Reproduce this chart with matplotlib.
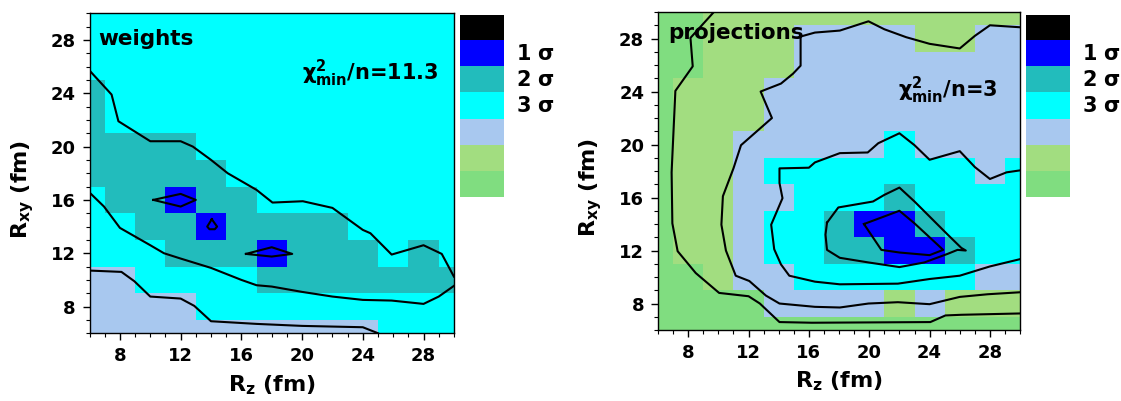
import numpy as np
import matplotlib
matplotlib.use("Agg")
import matplotlib.pyplot as plt
from matplotlib.colors import ListedColormap, BoundaryNorm
from matplotlib.ticker import MultipleLocator

# grid of cell centres (fm)
rz = np.arange(6, 31, 2)
rxy = np.arange(6, 31, 2)

# confidence class per cell: 0 = 1 sigma, 1 = 2 sigma, 2 = 3 sigma, 3..5 further out
# rows go from Rxy = 6 (first) to Rxy = 30 (last), columns Rz = 6 .. 30
weights_levels = [
    [3, 3, 3, 3, 3, 3, 3, 3, 3, 3, 2, 2, 2],
    [3, 3, 3, 3, 2, 2, 2, 2, 2, 2, 2, 2, 2],
    [3, 3, 2, 2, 2, 2, 1, 1, 1, 1, 1, 1, 1],
    [2, 2, 2, 1, 1, 1, 0, 1, 1, 1, 2, 1, 2],
    [2, 2, 1, 1, 0, 1, 1, 1, 1, 2, 2, 2, 2],
    [2, 1, 1, 0, 1, 1, 2, 2, 2, 2, 2, 2, 2],
    [1, 1, 1, 1, 1, 2, 2, 2, 2, 2, 2, 2, 2],
    [1, 1, 1, 1, 2, 2, 2, 2, 2, 2, 2, 2, 2],
    [1, 2, 2, 2, 2, 2, 2, 2, 2, 2, 2, 2, 2],
    [1, 2, 2, 2, 2, 2, 2, 2, 2, 2, 2, 2, 2],
    [2, 2, 2, 2, 2, 2, 2, 2, 2, 2, 2, 2, 2],
    [2, 2, 2, 2, 2, 2, 2, 2, 2, 2, 2, 2, 2],
    [2, 2, 2, 2, 2, 2, 2, 2, 2, 2, 2, 2, 2],
]

projections_levels = [
    [5, 5, 5, 5, 5, 5, 5, 5, 5, 5, 5, 5, 5],
    [5, 5, 5, 5, 3, 3, 3, 3, 4, 3, 4, 4, 4],
    [5, 5, 4, 3, 3, 2, 2, 2, 2, 2, 2, 3, 3],
    [5, 4, 4, 3, 2, 2, 1, 1, 0, 0, 1, 2, 2],
    [5, 4, 4, 3, 2, 2, 1, 0, 0, 1, 2, 2, 2],
    [5, 4, 4, 3, 3, 2, 2, 2, 1, 2, 2, 2, 2],
    [5, 4, 4, 3, 2, 2, 2, 2, 2, 2, 2, 3, 2],
    [5, 4, 4, 3, 3, 3, 3, 3, 2, 3, 3, 3, 3],
    [5, 4, 4, 4, 3, 3, 3, 3, 3, 3, 3, 3, 3],
    [5, 4, 4, 4, 3, 3, 3, 3, 3, 3, 3, 3, 3],
    [5, 5, 4, 4, 4, 3, 3, 3, 3, 3, 3, 3, 3],
    [5, 5, 4, 4, 4, 3, 3, 3, 3, 4, 4, 3, 3],
    [5, 5, 4, 4, 4, 4, 4, 4, 4, 4, 4, 4, 4],
]

# contour lines, (Rz, Rxy) pairs
weights_contours = [
    # 1 sigma islands
    [(10.2, 16.0), (12.0, 16.45), (13.0, 16.0), (12.0, 15.5), (10.2, 16.0)],
    [(14.05, 14.55), (14.4, 14.0), (14.25, 13.8), (13.9, 13.8), (13.75, 14.0), (14.05, 14.55)],
    [(16.3, 11.95), (18.0, 12.45), (19.35, 11.95), (18.0, 11.75), (16.3, 11.95)],
    # 2 sigma, upper and lower
    [(6, 25.7), (7.45, 23.9), (7.9, 21.9), (10.0, 20.4), (12.0, 20.4), (12.8, 20.0),
     (14.0, 19.0), (15.1, 18.0), (17.0, 16.75), (18.05, 15.8), (20.05, 15.9),
     (22.0, 15.4), (24.0, 13.75), (24.5, 13.5), (25.9, 11.9), (28.0, 12.6),
     (29.2, 11.95), (30, 10.25)],
    [(6, 16.55), (6.95, 15.5), (8.0, 13.9), (9.0, 13.25), (10.0, 12.6), (10.9, 12.0),
     (12.0, 11.6), (14.0, 10.9), (16.0, 10.0), (17.0, 9.6), (18.0, 9.5), (20.0, 9.1),
     (22.0, 8.75), (24.0, 8.5), (25.9, 8.45), (28.0, 8.2), (29.0, 8.75), (30, 9.55)],
    # 3 sigma
    [(6, 10.7), (8.1, 10.6), (8.95, 9.9), (10.0, 8.75), (12.0, 8.6), (12.9, 8.05),
     (14.0, 6.9), (17.0, 6.7), (20.0, 6.55), (24.0, 6.45), (25.0, 6.0)],
]

projections_contours = [
    # 1 sigma
    [(19.65, 14.0), (22.0, 15.0), (23.0, 14.05), (24.9, 12.05), (24.0, 11.65),
     (22.0, 11.85), (20.8, 12.05), (19.65, 14.0)],
    # 2 sigma
    [(17.2, 14.1), (17.95, 15.25), (20.25, 15.7), (21.0, 16.2), (22.0, 16.75),
     (23.0, 15.7), (24.1, 14.45), (25.2, 13.2), (26.1, 12.2), (26.4, 12.0),
     (25.85, 12.05), (25.2, 11.75), (23.65, 11.1), (22.0, 10.75), (19.95, 11.1),
     (18.05, 11.45), (17.2, 12.05), (17.1, 13.2), (17.2, 14.1)],
    # 3 sigma
    [(30, 18.05), (29.1, 17.9), (28.0, 17.4), (27.0, 18.3), (26.0, 19.5), (24.0, 18.85),
     (23.0, 19.95), (22.0, 20.85), (20.6, 20.1), (19.9, 19.4), (18.05, 19.35),
     (16.4, 18.65), (16.0, 18.25), (14.05, 18.2), (14.05, 17.1), (14.25, 15.95),
     (13.5, 13.95), (13.7, 12.1), (14.15, 10.95), (14.7, 10.1), (16.4, 9.65),
     (18.05, 9.45), (21.9, 9.5), (24.0, 9.85), (26.0, 10.1), (28.0, 10.8), (30, 11.35)],
    # 4th level
    [(30, 28.85), (28.0, 29.0), (27.0, 28.2), (26.0, 27.25), (24.0, 27.6),
     (22.45, 28.1), (21.0, 28.7), (19.95, 29.3), (18.05, 28.6), (16.4, 28.45),
     (15.45, 28.15), (15.45, 25.95), (14.95, 25.35), (14.15, 24.6), (12.8, 24.0),
     (13.55, 22.0), (12.5, 20.95), (11.5, 19.95), (11.0, 18.2), (10.3, 16.1),
     (10.2, 13.95), (10.5, 12.0), (11.15, 10.1), (12.05, 9.7), (13.15, 8.6),
     (14.05, 8.0), (16.4, 7.75), (18.05, 7.7), (19.95, 8.0), (21.9, 8.1),
     (24.0, 7.95), (26.0, 8.5), (27.85, 8.7), (30, 8.85)],
    # 5th level
    [(9.7, 30.0), (8.15, 28.05), (8.3, 25.9), (7.15, 24.05), (6.9, 17.9), (6.95, 14.05),
     (7.3, 11.95), (8.5, 10.3), (10.05, 8.8), (12.0, 8.55), (12.75, 8.0),
     (14.05, 6.6), (16.2, 6.55), (24.05, 6.6), (25.05, 7.1), (26.1, 7.15), (30, 7.25)],
]

panel_names = ["weights", "projections"]
chi2_values = ["11.3", "3"]

level_colors = ["#0000ff", "#22bcbc", "#00ffff", "#a8c8ef", "#a2dd80", "#80dd80"]
legend_colors = ["#000000"] + level_colors
legend_labels = ["", "1", "2", "3", "", "", ""]

plt.rcParams["font.family"] = ["DejaVu Sans"]
plt.rcParams["font.weight"] = "bold"
plt.rcParams["mathtext.default"] = "regular"

fig = plt.figure(figsize=(11.21, 4.01), dpi=100)

cmap = ListedColormap(level_colors)
norm = BoundaryNorm(np.arange(-0.5, 6.5, 1), cmap.N)
x_edges = np.append(rz - 1, rz[-1] + 1)
y_edges = np.append(rxy - 1, rxy[-1] + 1)

axes_boxes = [[0.0799, 0.169, 0.325, 0.798], [0.587, 0.177, 0.323, 0.793]]
legend_boxes = [[0.4100, 0.509, 0.0384, 0.454], [0.9150, 0.509, 0.0384, 0.454]]
text_spots = [[(6.55, 27.6), (20.0, 25.0)], [(6.7, 28.0), (21.9, 23.6)]]

for k, (levels, contours) in enumerate([(weights_levels, weights_contours),
                                        (projections_levels, projections_contours)]):
    ax = fig.add_axes(axes_boxes[k])
    ax.pcolormesh(x_edges, y_edges, np.array(levels), cmap=cmap, norm=norm)
    for line in contours:
        xs, ys = zip(*line)
        ax.plot(xs, ys, color="black", lw=1.5)
    ax.set_xlim(6, 30)
    ax.set_ylim(6, 30)
    ax.set_xticks(np.arange(8, 30, 4))
    ax.set_yticks(np.arange(8, 30, 4))
    ax.xaxis.set_minor_locator(MultipleLocator(1))
    ax.yaxis.set_minor_locator(MultipleLocator(1))
    ax.tick_params(which="major", direction="out", length=5, width=1, labelsize=13, pad=5)
    ax.tick_params(which="minor", direction="out", length=3, width=0.8)
    for lab in ax.get_xticklabels() + ax.get_yticklabels():
        lab.set_fontweight("bold")
    ax.set_xlabel("R$_z$ (fm)", fontsize=16, fontweight="bold")
    ax.set_ylabel("R$_{xy}$ (fm)", fontsize=16, fontweight="bold", va="center")
    ax.xaxis.set_label_coords(0.5, -0.125)
    ax.yaxis.set_label_coords(-0.185, 0.45)
    ax.xaxis.label.set_va("top")
    for sp in ax.spines.values():
        sp.set_linewidth(1.0)

    (nx, ny), (cx, cy) = text_spots[k]
    ax.text(nx, ny, panel_names[k], fontsize=15.5, fontweight="bold")
    ax.text(cx, cy, r"$\chi^{\mathbf{2}}_{\mathbf{min}}$/n=" + chi2_values[k],
            fontsize=15, fontweight="bold")

    # colour key
    lax = fig.add_axes(legend_boxes[k])
    lax.imshow(np.arange(len(legend_colors)).reshape(-1, 1), aspect="auto",
               cmap=ListedColormap(legend_colors), interpolation="nearest")
    lax.set_xticks([])
    lax.set_yticks([])
    for sp in lax.spines.values():
        sp.set_visible(False)
    for i, lab in enumerate(legend_labels):
        if lab:
            lax.text(1.3, i, lab + r" $\sigma$", transform=lax.get_yaxis_transform(),
                     va="center", ha="left", fontsize=15, fontweight="bold")

fig.savefig("out.png", dpi=100)
